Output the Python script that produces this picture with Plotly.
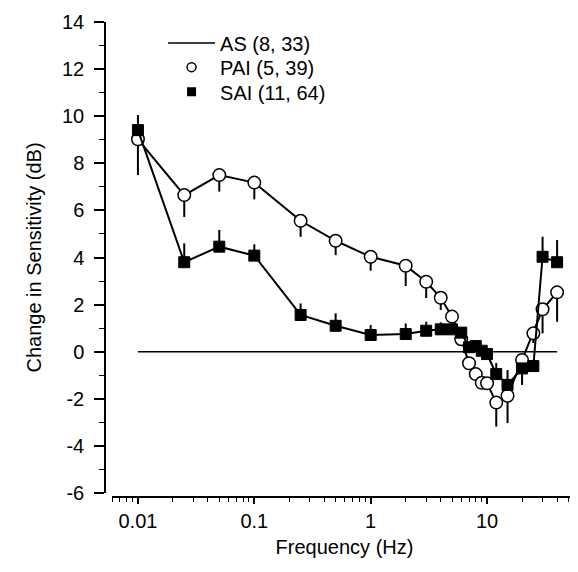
import plotly.graph_objects as go

freq = [0.01, 0.025, 0.05, 0.1, 0.25, 0.5, 1, 2, 3, 4, 5, 6, 7, 8, 9, 10, 12, 15, 20, 25, 30, 40]

pai = [9.02, 6.65, 7.5, 7.18, 5.56, 4.71, 4.03, 3.65, 2.97, 2.29, 1.49, 0.53, -0.49, -0.95, -1.32, -1.34,
       -2.16, -1.87, -0.35, 0.78, 1.8, 2.52]
pai_err_down = [1.52, 0.93, 0.7, 0.71, 0.68, 0.61, 0.59, 0.86, 0.69, 0.52, 0.0, 0.0, 0.0, 0.0, 0.0, 0.0,
                1.02, 1.16, 1.06, 0.41, 1.02, 1.25]

sai = [9.41, 3.8, 4.46, 4.08, 1.56, 1.1, 0.71, 0.75, 0.89, 0.95, 0.95, 0.81, 0.19, 0.24, 0.04, -0.1,
       -0.95, -1.41, -0.71, -0.61, 4.03, 3.8]
sai_err_up = [0.64, 0.8, 0.71, 0.48, 0.49, 0.53, 0.42, 0.45, 0.38, 0.3, 0.25, 0.2, 0.0, 0.0, 0.0, 0.0,
              0.47, 0.63, 0.0, 0.0, 0.85, 0.94]

as_freq = [0.01, 40]
as_vals = [0, 0]

labels = ["AS (8, 33)", "PAI (5, 39)", "SAI (11, 64)"]

x_major = [0.01, 0.1, 1, 10]
x_major_text = ["0.01", "0.1", "1", "10"]
x_minor = [m * d for d in [0.001, 0.01, 0.1, 1, 10] for m in range(2, 10)]
x_minor = [v for v in x_minor if 0.006 <= v <= 59]

y_major = list(range(-6, 15, 2))
y_major_text = [str(v) for v in y_major]  # plain hyphen minus

FONT = "Liberation Sans, Arial, sans-serif"

fig = go.Figure()

fig.add_trace(go.Scatter(x=as_freq, y=as_vals, mode="lines",
                         line=dict(color="black", width=1.5), showlegend=False))

fig.add_trace(go.Scatter(
    x=freq, y=pai, mode="lines+markers",
    line=dict(color="black", width=2),
    marker=dict(symbol="circle", size=12.5, color="white", line=dict(color="black", width=1.5)),
    error_y=dict(type="data", symmetric=False, array=[0] * len(pai), arrayminus=pai_err_down,
                 color="black", thickness=2, width=0),
    showlegend=False))

fig.add_trace(go.Scatter(
    x=freq, y=sai, mode="lines+markers",
    line=dict(color="black", width=2),
    marker=dict(symbol="square", size=11, color="black", line=dict(color="black", width=1)),
    error_y=dict(type="data", symmetric=False, array=sai_err_up, arrayminus=[0] * len(sai),
                 color="black", thickness=2, width=0),
    showlegend=False))

# legend-only entries, each in its own legend box for row spacing
fig.add_trace(go.Scatter(x=[None], y=[None], mode="lines", name=labels[0], legend="legend",
                         line=dict(color="black", width=1.5)))
fig.add_trace(go.Scatter(x=[None], y=[None], mode="markers", name=labels[1], legend="legend2",
                         marker=dict(symbol="circle", size=9, color="white",
                                     line=dict(color="black", width=1.5))))
fig.add_trace(go.Scatter(x=[None], y=[None], mode="markers", name=labels[2], legend="legend3",
                         marker=dict(symbol="square", size=9, color="black")))

leg_common = dict(x=0.123, xanchor="left", yanchor="middle", bgcolor="rgba(0,0,0,0)",
                  font=dict(size=20), itemwidth=47)

fig.update_layout(
    width=570, height=564,
    margin=dict(l=97, r=1, t=14, b=75),
    paper_bgcolor="white", plot_bgcolor="white",
    font=dict(family=FONT, size=20, color="black"),
    showlegend=True,
    legend=dict(y=0.956, **leg_common),
    legend2=dict(y=0.905, **leg_common),
    legend3=dict(y=0.853, **leg_common),
    xaxis=dict(type="log", range=[-2.223, 1.773], domain=[0.0148, 1],
               anchor="free", position=0,
               showline=True, linecolor="black", linewidth=1.5,
               tickvals=x_major, ticktext=x_major_text,
               ticks="outside", ticklen=6, tickwidth=1.5, tickcolor="black",
               minor=dict(tickvals=x_minor, ticks="outside", ticklen=4, tickwidth=1, tickcolor="black"),
               showgrid=False, zeroline=False,
               title=dict(text="Frequency (Hz)", font=dict(size=20), standoff=8),
               tickfont=dict(size=20)),
    yaxis=dict(range=[-6, 14], domain=[0.0084, 1], anchor="free", position=0,
               showline=True, linecolor="black", linewidth=1.5,
               tickvals=y_major, ticktext=y_major_text,
               ticks="outside", ticklen=10, tickwidth=1.5, tickcolor="black",
               minor=dict(dtick=1, ticks="outside", ticklen=5, tickwidth=1, tickcolor="black"),
               showgrid=False, zeroline=False, ticklabelstandoff=6,
               title=dict(text="Change in Sensitivity (dB)", font=dict(size=20), standoff=14),
               tickfont=dict(size=20)),
)

fig.write_html("out.html")
